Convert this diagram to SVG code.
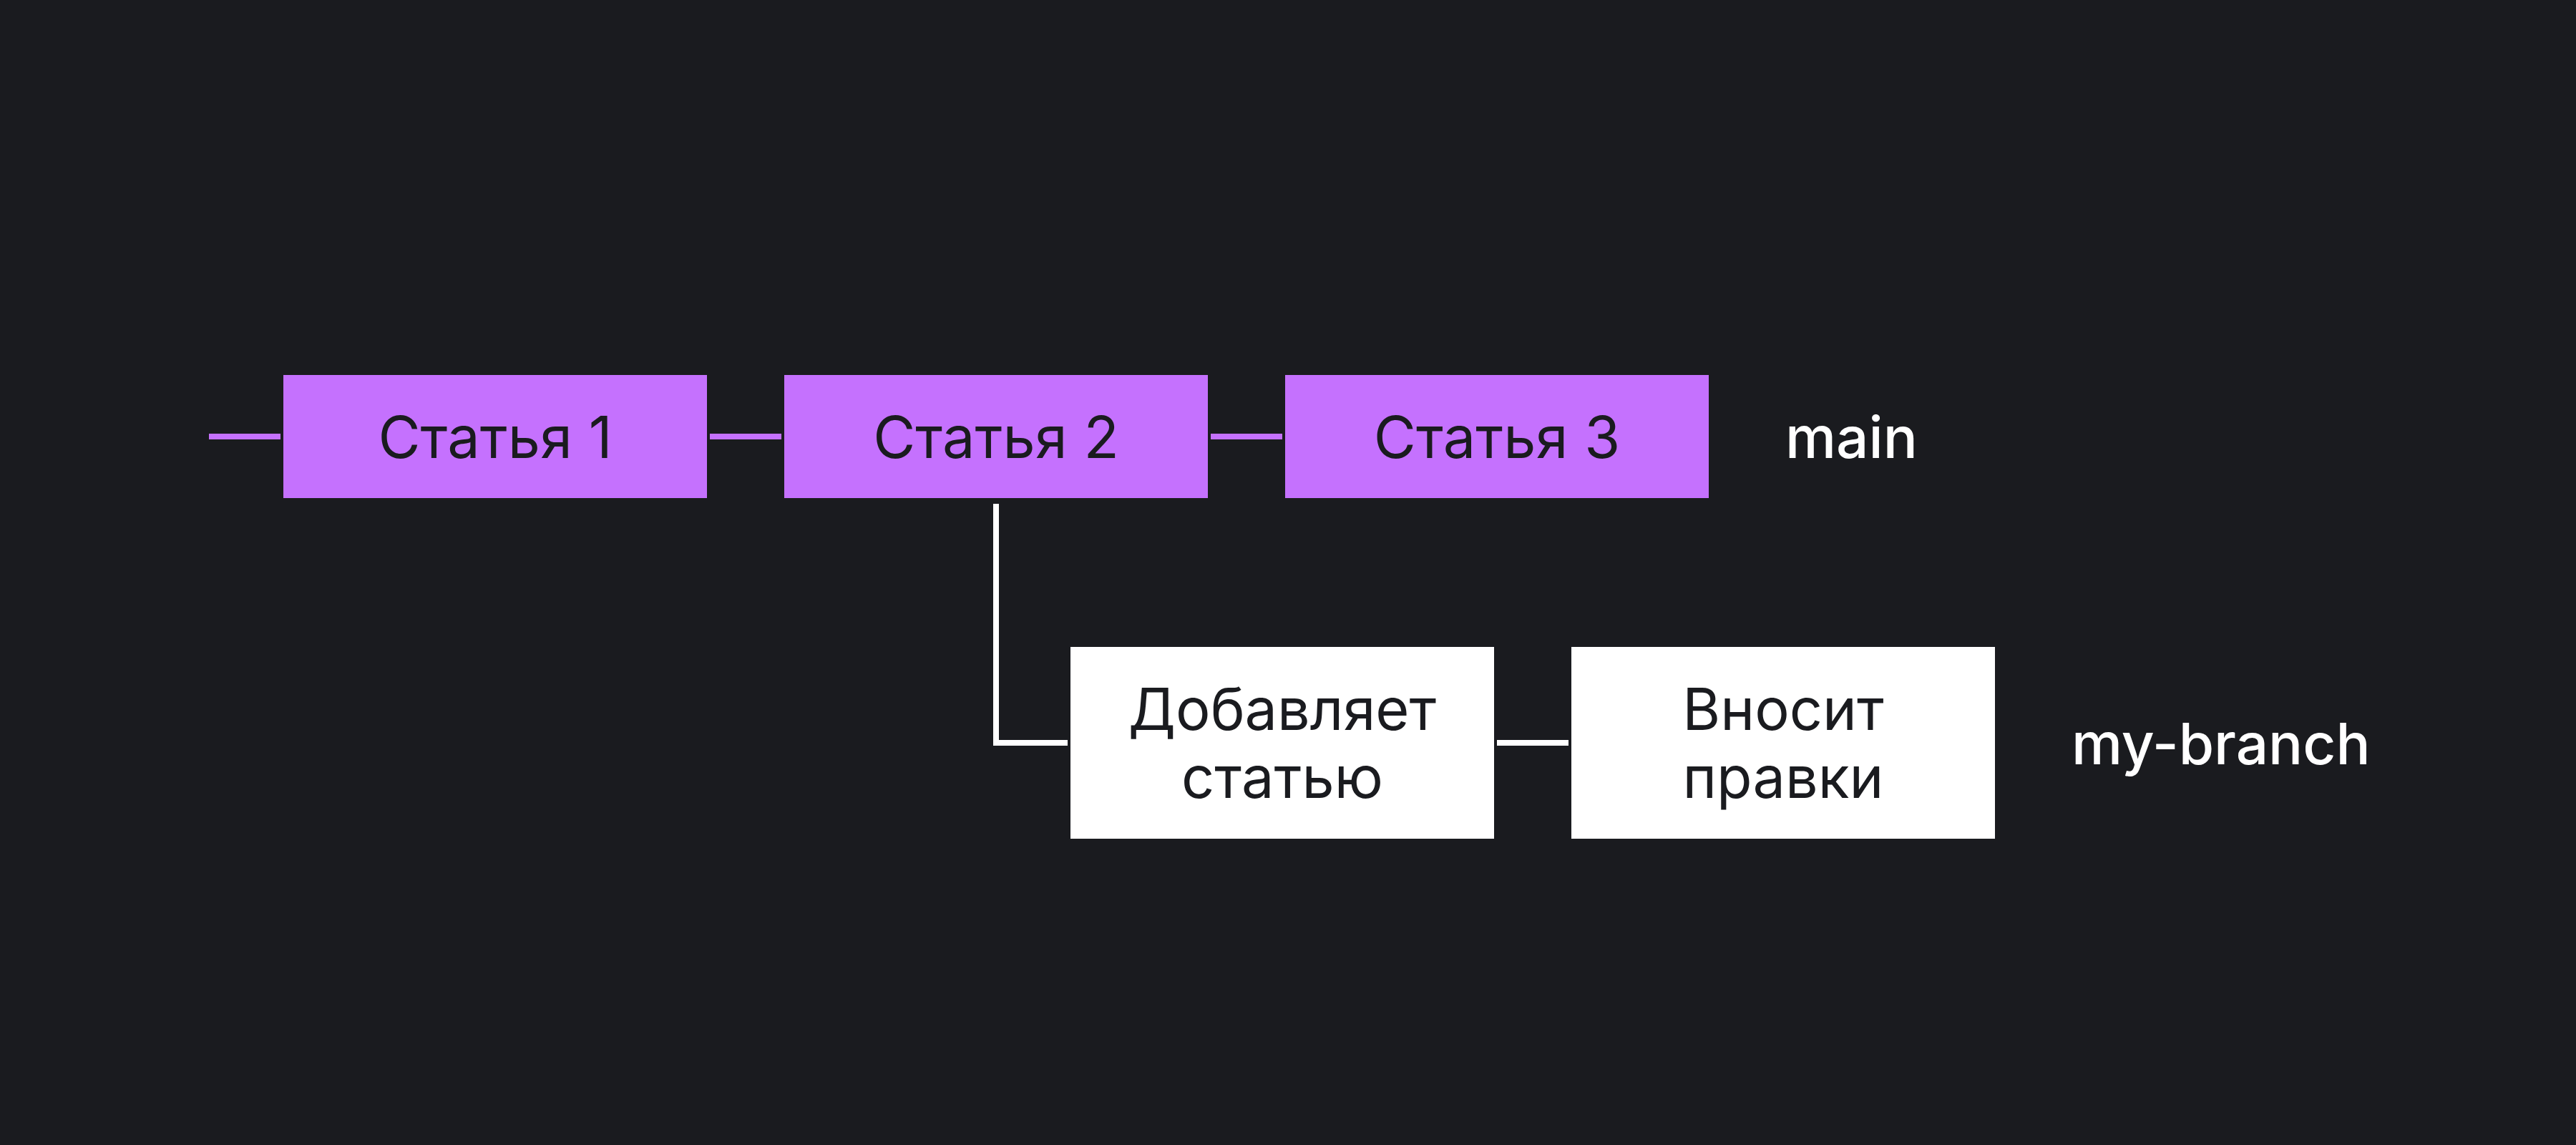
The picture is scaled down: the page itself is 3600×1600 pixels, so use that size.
<svg xmlns="http://www.w3.org/2000/svg" width="3600" height="1600" viewBox="0 0 3600 1600">
<style>
.bg{fill:#1A1B1F}
.commit{fill:#C571FE}
.branchnode{fill:#FFFFFF}
.t{font-family:Inter,"Noto Sans","Liberation Sans",sans-serif;font-size:81px;fill:#1A1B1F;text-anchor:middle}
.lbl{font-family:Inter,"Noto Sans","Liberation Sans",sans-serif;font-size:80px;font-weight:500;fill:#FFFFFF}
.cp{stroke:#C571FE;stroke-width:8;fill:none}
.cw{stroke:#FFFFFF;stroke-width:8;fill:none}
</style>
<rect class="bg" x="0" y="0" width="3600" height="1600"/>
<g id="connectors">
<line class="cp" x1="292" y1="610" x2="392" y2="610"/>
<line class="cp" x1="992" y1="610" x2="1092" y2="610"/>
<line class="cp" x1="1692" y1="610" x2="1792" y2="610"/>
<polyline class="cw" points="1392,704 1392,1038 1492,1038"/>
<line class="cw" x1="2092" y1="1038" x2="2192" y2="1038"/>
</g>
<g id="commit1">
<rect class="commit" x="396" y="524" width="592" height="172"/>
<text class="t" x="692" y="640">Статья 1</text>
</g>
<g id="commit2">
<rect class="commit" x="1096" y="524" width="592" height="172"/>
<text class="t" x="1392" y="640">Статья 2</text>
</g>
<g id="commit3">
<rect class="commit" x="1796" y="524" width="592" height="172"/>
<text class="t" x="2092" y="640">Статья 3</text>
</g>
<g id="branch1">
<rect class="branchnode" x="1496" y="904" width="592" height="268"/>
<text class="t" x="1792" y="1020">Добавляет</text>
<text class="t" x="1792" y="1115">статью</text>
</g>
<g id="branch2">
<rect class="branchnode" x="2196" y="904" width="592" height="268"/>
<text class="t" x="2492" y="1020">Вносит</text>
<text class="t" x="2492" y="1115">правки</text>
</g>
<g id="label-main">
<text class="lbl" x="2495" y="640">main</text>
</g>
<g id="label-branch">
<text class="lbl" x="2895" y="1068">my-branch</text>
</g>
</svg>
